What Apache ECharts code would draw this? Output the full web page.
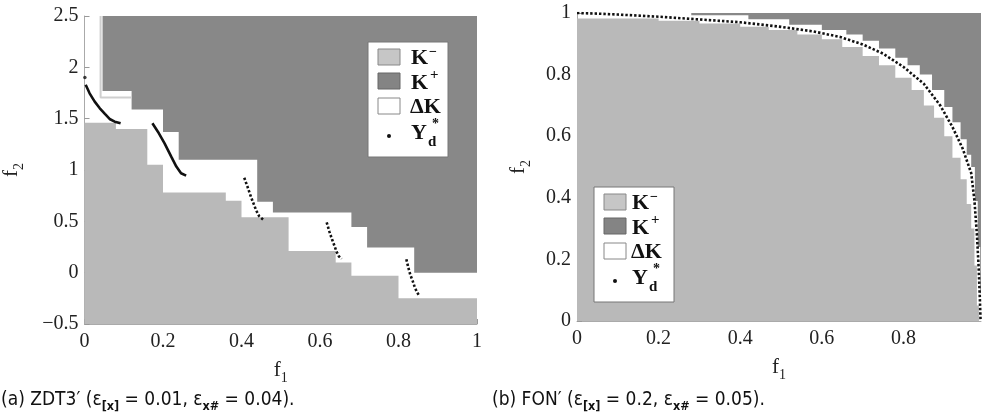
<!DOCTYPE html>
<html>
<head>
<meta charset="utf-8">
<script src="https://cdn.jsdelivr.net/npm/echarts@6/dist/echarts.min.js"></script>
<style>
html, body { margin: 0; padding: 0; background: #fff; }
#chart { width: 982px; height: 419px; }
</style>
</head>
<body>
<div id="chart"></div>
<script>
// (a) ZDT3' : staircase boundaries, [f1 where the step starts, f2 level]
const zdtKMinus = [[0, 1.46], [0.08, 1.40], [0.16, 1.05], [0.20, 0.78], [0.36, 0.70], [0.40, 0.54],
  [0.52, 0.21], [0.64, 0.10], [0.68, -0.03], [0.80, -0.25], [1.0, -0.25]];
const zdtKPlus = [[0.046, 1.77], [0.12, 1.59], [0.20, 1.37], [0.24, 1.10], [0.44, 0.69], [0.48, 0.585],
  [0.68, 0.445], [0.72, 0.244], [0.84, 0.0], [1.0, 0.0]];
const zdtEdge = [[0.041, 2.5], [0.041, 1.705], [0.12, 1.705]];
// Y_d* pieces of the front
const zdtFrontDense = [
  [[0.003, 1.83], [0.013, 1.747], [0.026, 1.666], [0.039, 1.601], [0.052, 1.546], [0.064, 1.497], [0.077, 1.471], [0.092, 1.455]],
  [[0.173, 1.455], [0.187, 1.373], [0.204, 1.26], [0.221, 1.13], [0.234, 1.033], [0.246, 0.968], [0.259, 0.945]]
];
const zdtFrontSparse = [
  [[0.407, 0.925], [0.415, 0.84], [0.424, 0.74], [0.431, 0.67], [0.437, 0.61], [0.445, 0.55], [0.455, 0.518]],
  [[0.617, 0.49], [0.624, 0.40], [0.631, 0.32], [0.637, 0.26], [0.642, 0.205], [0.648, 0.16], [0.655, 0.134]],
  [[0.82, 0.13], [0.825, 0.05], [0.83, -0.02], [0.836, -0.08], [0.841, -0.136], [0.847, -0.19], [0.853, -0.223]]
];
const zdtLoneDot = [[0.001, 1.90]];

// (b) FON'
const fonKMinus = [[0, 0.982], [0.2, 0.975], [0.3, 0.966], [0.4, 0.955], [0.47, 0.945], [0.54, 0.93],
  [0.6, 0.915], [0.65, 0.89], [0.70, 0.86], [0.74, 0.83], [0.78, 0.79], [0.82, 0.75], [0.85, 0.70],
  [0.875, 0.66], [0.90, 0.60], [0.92, 0.53], [0.94, 0.46], [0.955, 0.38], [0.966, 0.30], [0.974, 0.18],
  [0.98, 0.05], [0.985, 0.05]];
const fonKPlus = [[0.28, 0.993], [0.42, 0.98], [0.52, 0.962], [0.60, 0.945], [0.66, 0.93], [0.70, 0.91],
  [0.74, 0.885], [0.78, 0.855], [0.81, 0.83], [0.84, 0.80], [0.87, 0.75], [0.90, 0.695], [0.92, 0.645],
  [0.94, 0.59], [0.955, 0.54], [0.966, 0.50], [0.975, 0.39], [0.982, 0.24], [0.988, 0.09], [1.0, 0.09]];
const fonFront = [[0, 1.0], [0.05, 0.998], [0.1, 0.995], [0.2, 0.988], [0.3, 0.979], [0.4, 0.97], [0.5, 0.955],
  [0.58, 0.94], [0.645, 0.922], [0.7, 0.898], [0.75, 0.868], [0.8, 0.825], [0.85, 0.77], [0.89, 0.70],
  [0.92, 0.63], [0.945, 0.56], [0.966, 0.48], [0.974, 0.39], [0.98, 0.28], [0.984, 0.18], [0.987, 0.08], [0.989, 0.0]];

const zdtXTicks = [0, 0.2, 0.4, 0.6, 0.8, 1];
const fonXTicks = [0, 0.2, 0.4, 0.6, 0.8];
const zdtYTicks = [-0.5, 0, 0.5, 1, 1.5, 2, 2.5];
const fonYTicks = [0, 0.2, 0.4, 0.6, 0.8, 1];

const LIGHT = '#b9b9b9';
const DARK = '#888888';
const SERIF = 'Liberation Serif, DejaVu Serif, serif';
const NARROW = 'Liberation Sans Narrow, DejaVu Sans Condensed, sans-serif';

const chart = echarts.init(document.getElementById('chart'));

function fmt(v) {
  return String(Math.round(v * 10) / 10).replace('-', '\u2212');
}

const nameRich = {
  f: { fontFamily: SERIF, fontSize: 21, color: '#222' },
  s: { fontFamily: SERIF, fontSize: 14, color: '#222', verticalAlign: 'bottom', lineHeight: 30 }
};

function axisBase(grid, min, max, interval) {
  return {
    gridIndex: grid, type: 'value', min: min, max: max, interval: interval,
    axisLine: { show: true, onZero: false, lineStyle: { color: '#aaa', width: 1 } },
    axisTick: { show: true, inside: true, length: 5, lineStyle: { color: '#999' } },
    splitLine: { show: false },
    nameLocation: 'middle', nameTextStyle: { rich: nameRich }
  };
}
function xAxis(grid, ticks, max) {
  const a = axisBase(grid, ticks[0], max, 0.2);
  a.axisLabel = { color: '#222', fontFamily: SERIF, fontSize: 20, margin: 8, formatter: fmt, showMaxLabel: max === 1 };
  a.name = '{f|f}{s|1}';
  a.nameGap = 31;
  return a;
}
function yAxis(grid, ticks, interval, gap) {
  const a = axisBase(grid, ticks[0], ticks[ticks.length - 1], interval);
  a.axisLabel = { color: '#222', fontFamily: SERIF, fontSize: 20, margin: 6, formatter: fmt };
  a.name = '{f|f}{s|2}';
  a.nameGap = gap;
  return a;
}

function area(data, color, origin, axis) {
  return {
    type: 'line', step: 'end', data: data, xAxisIndex: axis, yAxisIndex: axis,
    symbol: 'none', lineStyle: { width: 0 }, silent: true,
    areaStyle: { color: color, opacity: 1, origin: origin }
  };
}
function front(data, axis, dashed) {
  return {
    type: 'line', data: data, xAxisIndex: axis, yAxisIndex: axis, symbol: 'none', silent: true, z: 5,
    lineStyle: { color: '#111', width: 2.6, type: dashed ? [2.4, 2] : 'solid', cap: 'butt' }
  };
}

const series = [
  {
    type: 'line', data: zdtEdge, xAxisIndex: 0, yAxisIndex: 0, symbol: 'none', silent: true,
    lineStyle: { color: '#cfcfcf', width: 2 }
  },
  area(zdtKPlus, DARK, 'end', 0),
  area(zdtKMinus, LIGHT, 'start', 0),
  area(fonKPlus, DARK, 'end', 1),
  area(fonKMinus, LIGHT, 'start', 1),
  {
    type: 'scatter', data: zdtLoneDot, xAxisIndex: 0, yAxisIndex: 0, symbolSize: 3.5, z: 5,
    itemStyle: { color: '#111' }, silent: true
  },
  front(fonFront, 1, true)
];
zdtFrontDense.forEach(seg => series.push(front(seg, 0, false)));
zdtFrontSparse.forEach(seg => series.push(front(seg, 0, true)));

// legend boxes, drawn by hand so the super/subscripts sit right
function legend(bx, by, tx) {
  const t = (x, y, text, size) => ({
    type: 'text', x: bx + x, y: by + y, z: 100,
    style: { text: text, fontFamily: SERIF, fontWeight: 'bold', fontSize: size, fill: '#111', verticalAlign: 'middle' }
  });
  return [
    { type: 'rect', z: 100, shape: { x: bx, y: by, width: 80, height: 115 }, style: { fill: '#fff', stroke: '#777', lineWidth: 1 } },
    { type: 'rect', z: 100, shape: { x: bx + 10, y: by + 7, width: 22, height: 16 }, style: { fill: '#c6c6c6', stroke: '#888', lineWidth: 1 } },
    { type: 'rect', z: 100, shape: { x: bx + 10, y: by + 31, width: 22, height: 16 }, style: { fill: '#848484', stroke: '#666', lineWidth: 1 } },
    { type: 'rect', z: 100, shape: { x: bx + 10, y: by + 56, width: 22, height: 16 }, style: { fill: '#fff', stroke: '#888', lineWidth: 1 } },
    { type: 'circle', z: 100, shape: { cx: bx + 21, cy: by + 94, r: 2 }, style: { fill: '#111' } },
    t(tx, 16, 'K', 22), t(tx + 18, 10, '\u2212', 14),
    t(tx, 41, 'K', 22), t(tx + 19, 33, '+', 15),
    t(tx - 1, 65, '\u0394K', 22),
    t(tx, 91, 'Y', 22), t(tx + 17, 100, 'd', 15), t(tx + 21, 82, '*', 14)
  ];
}

const capRich = {
  sub: { fontFamily: NARROW, fontSize: 12.5, fontWeight: 'bold', verticalAlign: 'bottom', lineHeight: 27, fill: '#111' }
};
function caption(x, text) {
  return {
    type: 'text', x: x, y: 400, z: 100,
    style: {
      text: text, fill: '#111', verticalAlign: 'middle',
      fontFamily: NARROW, fontSize: 19, lineHeight: 27, rich: capRich
    }
  };
}

const option = {
  animation: false,
  backgroundColor: '#fff',
  grid: [
    { left: 83, top: 16, width: 394, height: 308, containLabel: false },
    { left: 577, top: 13, width: 404, height: 308, containLabel: false }
  ],
  xAxis: [xAxis(0, zdtXTicks, 1), xAxis(1, fonXTicks, 0.99)],
  yAxis: [yAxis(0, zdtYTicks, 0.5, 58), yAxis(1, fonYTicks, 0.2, 44)],
  series: series,
  graphic: [
    ...legend(368, 42, 43),
    ...legend(594, 187, 38),
    caption(1, '(a) ZDT3\u2032 (\u03b5{sub|[x]} = 0.01, \u03b5{sub|x#} = 0.04).'),
    caption(492, '(b) FON\u2032 (\u03b5{sub|[x]} = 0.2, \u03b5{sub|x#} = 0.05).')
  ]
};
chart.setOption(option);
</script>
</body>
</html>
